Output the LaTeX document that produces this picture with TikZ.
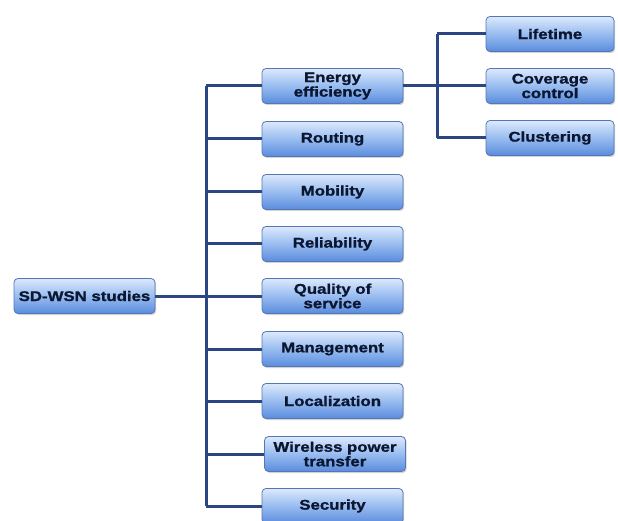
\documentclass[tikz,border=0pt]{standalone}
\usepackage{fontspec}
\setmainfont{Liberation Sans}[FakeStretch=1.2,BoldFeatures={FakeBold=1.2}]
\usetikzlibrary{shadows}
\begin{document}
\begin{tikzpicture}[x=1pt,y=-1pt,
  box/.style={draw=boxedge, line width=0.8pt, rounded corners=4pt,
    top color=boxtop, bottom color=boxbot, middle color=boxmid,
    minimum height=35pt, inner sep=1pt, align=center,
    font=\bfseries\fontsize{14}{14.5}\selectfont, text=boxtext,
    drop shadow={shadow xshift=1.2pt, shadow yshift=-1.5pt, opacity=0.35}},
  kid/.style={box, minimum width=141pt, text width=138pt},
  gkid/.style={box, minimum width=128pt, text width=125pt},
  conn/.style={draw=linecol, line width=3pt}]
\definecolor{boxtop}{HTML}{DCE9FC}
\definecolor{boxmid}{HTML}{98BCF0}
\definecolor{boxbot}{HTML}{5A8CDD}
\definecolor{boxedge}{HTML}{5577B5}
\definecolor{boxtext}{HTML}{0B1630}
\definecolor{linecol}{HTML}{2B4682}
\useasboundingbox (0,0) rectangle (618,521);
\fill[white] (0,0) rectangle (618,521);
\coordinate (t1) at (206,86);
\coordinate (t9) at (206,506);
\coordinate (s1) at (437,34);
\coordinate (s3) at (437,138);
\node[kid] (root) at (84.5,296) {SD-WSN studies};
\node[kid] (c1) at (332.5,86) {Energy\\efficiency};
\node[kid] (c2) at (332.5,139) {Routing};
\node[kid] (c3) at (332.5,192) {Mobility};
\node[kid] (c4) at (332.5,244) {Reliability};
\node[kid] (c5) at (332.5,296) {Quality of\\service};
\node[kid] (c6) at (332.5,349) {Management};
\node[kid] (c7) at (332.5,401) {Localization};
\node[kid] (c8) at (335,454) {Wireless power\\transfer};
\node[kid] (c9) at (332.5,506) {Security};
\node[gkid] (g1) at (550,34) {Lifetime};
\node[gkid] (g2) at (550,86) {Coverage\\control};
\node[gkid] (g3) at (550,138) {Clustering};
\draw[conn] (root.east) -- (c5.west);
\draw[conn] (t1) -- (t9);
\foreach \c in {c1,c2,c3,c4,c6,c7,c8,c9}
  \draw[conn] (206,0 |- \c.west) -- (\c.west);
\draw[conn] (c1.east) -- (g2.west);
\draw[conn] (s1) -- (s3);
\draw[conn] (s1) -- (g1.west);
\draw[conn] (s3) -- (g3.west);
\end{tikzpicture}
\end{document}
